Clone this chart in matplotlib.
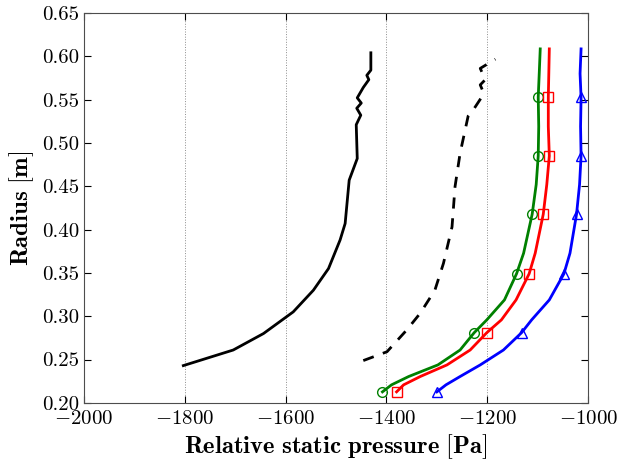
import numpy as np
import matplotlib
matplotlib.use('Agg')
import matplotlib.pyplot as plt
from matplotlib.ticker import FormatStrFormatter, MultipleLocator

plt.rcParams['font.family'] = 'serif'
plt.rcParams['font.serif'] = ['cmr10']
plt.rcParams['mathtext.fontset'] = 'cm'
plt.rcParams['axes.formatter.use_mathtext'] = True

# measurement, solid black
r_meas = [0.243, 0.261, 0.280, 0.305, 0.330, 0.355, 0.388, 0.407, 0.457, 0.482,
          0.521, 0.532, 0.540, 0.546, 0.552, 0.564, 0.573, 0.578, 0.584, 0.604]
p_meas = [-1803, -1704, -1644, -1585, -1545, -1515, -1492, -1482, -1474, -1458,
          -1460, -1451, -1459, -1450, -1458, -1446, -1435, -1439, -1431, -1431]

# second measurement, dashed black
r_meas2 = [0.2488, 0.259, 0.284, 0.3035, 0.330, 0.361, 0.403, 0.4496, 0.488, 0.531,
           0.538, 0.553, 0.560, 0.567, 0.573, 0.586, 0.5966]
p_meas2 = [-1446, -1399, -1360, -1333, -1304, -1287, -1270, -1264, -1254, -1238,
           -1228, -1211, -1209, -1214, -1204, -1214, -1184]

# simulations, common radius grid
r_sim = [0.2127, 0.2208, 0.2304, 0.2438, 0.261, 0.281, 0.2958, 0.3188, 0.349, 0.3727,
         0.4177, 0.452, 0.485, 0.519, 0.5527, 0.58, 0.6085]
p_green = [-1408, -1390, -1356, -1298, -1254, -1226, -1201, -1166, -1142, -1128,
           -1111, -1103, -1099, -1098, -1099, -1097, -1095]
p_red = [-1380, -1366, -1333, -1280, -1234, -1201, -1172, -1143, -1117, -1105,
         -1089, -1082, -1077, -1079, -1079, -1078, -1077]
p_blue = [-1300, -1282, -1254, -1214, -1168, -1132, -1112, -1077, -1048, -1036,
          -1023, -1017, -1014, -1015, -1014, -1016, -1014]
mark_idx = [0, 5, 8, 10, 12, 14]

fig = plt.figure(figsize=(6.27, 4.62), dpi=100)
ax = fig.add_axes([0.134, 0.128, 0.804, 0.844])

ax.plot(p_meas, r_meas, color='black', lw=2)
ax.plot(p_meas2, r_meas2, color='black', lw=2, dashes=(4, 3.5))
ax.plot(p_green, r_sim, color='green', lw=2, marker='o', ms=7, mfc='none',
        mec='green', mew=1, markevery=mark_idx)
ax.plot(p_red, r_sim, color='red', lw=2, marker='s', ms=7, mfc='none',
        mec='red', mew=1, markevery=mark_idx)
ax.plot(p_blue, r_sim, color='blue', lw=2, marker='^', ms=7, mfc='none',
        mec='blue', mew=1, markevery=mark_idx)

ax.set_xlim(-2000, -1000)
ax.set_ylim(0.20, 0.65)
ax.xaxis.set_major_locator(MultipleLocator(200))
ax.yaxis.set_major_locator(MultipleLocator(0.05))
ax.yaxis.set_major_formatter(FormatStrFormatter('%.2f'))
ax.xaxis.grid(True, color='0.55', ls=':', lw=0.7)
ax.tick_params(direction='in', top=True, right=True, length=5, labelsize=15)
ax.tick_params(axis='x', pad=5)
for s in ax.spines.values():
    s.set_color('0.3')

ax.set_xlabel(r'$\mathbf{Relative\ static\ pressure\ [Pa]}$', fontsize=17.8, labelpad=3)
ax.set_ylabel(r'$\mathbf{Radius\ [m]}$', fontsize=17.8, labelpad=4)

fig.savefig('out.png', dpi=100)
